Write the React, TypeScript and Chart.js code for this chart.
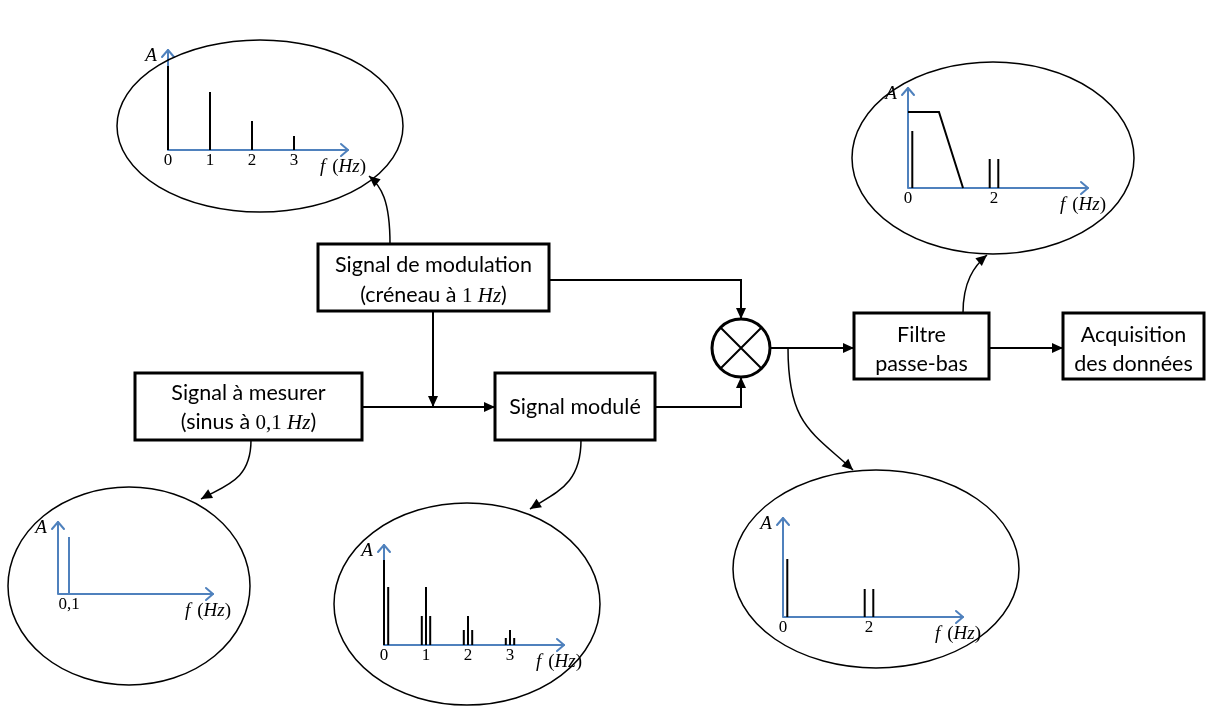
import React, { useEffect, useRef } from "react";
import { Chart, registerables } from "chart.js";
Chart.register(...registerables);

const W = 1206;
const H = 707;

// ---- Spectrum data (frequency in Hz, relative amplitude) ----
const modulationFreqs = [0, 1, 2, 3];
const modulationAmps = [0.84, 0.58, 0.29, 0.14];
const modulationTicks = [0, 1, 2, 3];

const signalFreqs = [0.1];
const signalAmps = [0.57];
const signalTicks = [0.1];
const signalTickLabels = ["0,1"];

const moduleFreqs = [0, 0.1, 0.9, 1, 1.1, 1.9, 2, 2.1, 2.9, 3, 3.1];
const moduleAmps = [0.85, 0.58, 0.29, 0.58, 0.29, 0.15, 0.29, 0.15, 0.07, 0.15, 0.07];
const moduleTicks = [0, 1, 2, 3];

const mixFreqs = [0.1, 1.9, 2.1];
const mixAmps = [0.58, 0.28, 0.28];
const mixTicks = [0, 2];

const filteredFreqs = [0.1, 1.9, 2.1];
const filteredAmps = [0.57, 0.29, 0.29];
const filteredTicks = [0, 2];
const filterShapeFreqs = [0, 0.72, 1.28];
const filterShapeGain = [0.76, 0.76, 0];

// ---- Layout (panels inside ellipses) ----
type Panel = { ox: number; oy: number; kx: number; ky: number; yTop: number; xEnd: number };
const pModulation: Panel = { ox: 168, oy: 150, kx: 42, ky: 100, yTop: 50, xEnd: 348 };
const pFiltered: Panel = { ox: 908, oy: 188, kx: 43, ky: 100, yTop: 88, xEnd: 1088 };
const pSignal: Panel = { ox: 58, oy: 594, kx: 110, ky: 100, yTop: 522, xEnd: 213 };
const pModule: Panel = { ox: 384, oy: 645, kx: 42, ky: 100, yTop: 545, xEnd: 564 };
const pMix: Panel = { ox: 783, oy: 617, kx: 43, ky: 100, yTop: 518, xEnd: 963 };

const BLUE = "#4F81BD";
const SANS = "Lato, 'Open Sans', sans-serif";
const SERIF = "'Liberation Serif', 'DejaVu Serif', serif";
const TXT = "21.5px " + SANS;
const MATH = "21px " + SERIF;
const MATH_I = "italic 21px " + SERIF;

function stems(p: Panel, freqs: number[], amps: number[], color: string) {
  const pts: { x: number; y: number | null }[] = [];
  freqs.forEach((f, i) => {
    const x = p.ox + f * p.kx;
    pts.push({ x, y: p.oy }, { x, y: p.oy - amps[i] * p.ky }, { x, y: null });
  });
  return {
    type: "line" as const,
    data: pts,
    borderColor: color,
    borderWidth: 2,
    pointRadius: 0,
    showLine: true,
    spanGaps: false,
    fill: false,
  };
}

function curve(p: Panel, freqs: number[], gains: number[], color: string) {
  return {
    type: "line" as const,
    data: freqs.map((f, i) => ({ x: p.ox + f * p.kx, y: p.oy - gains[i] * p.ky })),
    borderColor: color,
    borderWidth: 2,
    pointRadius: 0,
    showLine: true,
    fill: false,
    tension: 0,
  };
}

const panelsWithTicks: { p: Panel; ticks: number[]; labels?: string[] }[] = [
  { p: pModulation, ticks: modulationTicks },
  { p: pFiltered, ticks: filteredTicks },
  { p: pSignal, ticks: signalTicks, labels: signalTickLabels },
  { p: pModule, ticks: moduleTicks },
  { p: pMix, ticks: mixTicks },
];

const ellipses = [
  { cx: 260, cy: 126, rx: 143, ry: 86 },
  { cx: 993, cy: 158, rx: 141, ry: 96 },
  { cx: 129, cy: 586, rx: 121, ry: 99 },
  { cx: 467, cy: 604, rx: 133, ry: 101 },
  { cx: 876, cy: 569, rx: 143, ry: 99 },
];

type Run = [string, string];
const boxes: { x0: number; y0: number; x1: number; y1: number; lines: { base: number; runs: Run[] }[] }[] = [
  {
    x0: 318, y0: 244, x1: 549, y1: 311,
    lines: [
      { base: 272, runs: [["Signal de modulation", TXT]] },
      {
        base: 302,
        runs: [
          ["(créneau à ", TXT],
          ["1 ", MATH],
          ["Hz", MATH_I],
          [")", TXT],
        ],
      },
    ],
  },
  {
    x0: 135, y0: 373, x1: 362, y1: 440,
    lines: [
      { base: 400, runs: [["Signal à mesurer", TXT]] },
      {
        base: 429,
        runs: [
          ["(sinus à ", TXT],
          ["0,1 ", MATH],
          ["Hz", MATH_I],
          [")", TXT],
        ],
      },
    ],
  },
  { x0: 495, y0: 373, x1: 655, y1: 440, lines: [{ base: 414, runs: [["Signal modulé", TXT]] }] },
  {
    x0: 854, y0: 313, x1: 989, y1: 379,
    lines: [
      { base: 342, runs: [["Filtre", TXT]] },
      { base: 371, runs: [["passe-bas", TXT]] },
    ],
  },
  {
    x0: 1063, y0: 313, x1: 1204, y1: 379,
    lines: [
      { base: 342, runs: [["Acquisition", TXT]] },
      { base: 371, runs: [["des données", TXT]] },
    ],
  },
];

const mult = { cx: 741, cy: 348, r: 29 };

// straight connectors (polyline, arrow at end)
const connectors: number[][][] = [
  [[771, 348], [854, 348]],
  [[989, 348], [1063, 348]],
  [[549, 280], [741, 280], [741, 319]],
  [[433, 311], [433, 407]],
  [[362, 407], [495, 407]],
  [[655, 407], [741, 407], [741, 377]],
];

// curved pointers (cubic bezier, arrow at end)
const pointers: number[][] = [
  [390, 244, 390, 200, 381, 186, 369, 176],
  [788, 348, 788, 425, 812, 432, 853, 470],
  [251, 440, 251, 480, 226, 485, 201, 499],
  [581, 440, 581, 485, 556, 492, 530, 509],
  [963, 313, 963, 282, 974, 266, 987, 255],
];

const diagramPlugin = {
  id: "diagram",
  beforeDatasetsDraw(chart: any) {
    const ctx: CanvasRenderingContext2D = chart.ctx;
    const sx = chart.scales.x;
    const sy = chart.scales.y;
    const X = (v: number) => sx.getPixelForValue(v);
    const Y = (v: number) => sy.getPixelForValue(v);
    ctx.save();
    ctx.strokeStyle = BLUE;
    ctx.lineWidth = 2;
    ctx.lineCap = "round";
    ctx.lineJoin = "round";
    panelsWithTicks.forEach(({ p }) => {
      ctx.beginPath();
      ctx.moveTo(X(p.ox), Y(p.yTop));
      ctx.lineTo(X(p.ox), Y(p.oy));
      ctx.lineTo(X(p.xEnd), Y(p.oy));
      ctx.stroke();
      ctx.beginPath();
      ctx.moveTo(X(p.ox - 6), Y(p.yTop + 7));
      ctx.lineTo(X(p.ox), Y(p.yTop));
      ctx.lineTo(X(p.ox + 6), Y(p.yTop + 7));
      ctx.moveTo(X(p.xEnd - 7), Y(p.oy - 6));
      ctx.lineTo(X(p.xEnd), Y(p.oy));
      ctx.lineTo(X(p.xEnd - 7), Y(p.oy + 6));
      ctx.stroke();
    });
    ctx.restore();
  },
  afterDatasetsDraw(chart: any) {
    const ctx: CanvasRenderingContext2D = chart.ctx;
    const sx = chart.scales.x;
    const sy = chart.scales.y;
    const X = (v: number) => sx.getPixelForValue(v);
    const Y = (v: number) => sy.getPixelForValue(v);
    ctx.save();
    ctx.fillStyle = "#000";
    ctx.strokeStyle = "#000";

    const arrowHead = (tx: number, ty: number, fx: number, fy: number, len: number, half: number) => {
      const a = Math.atan2(Y(ty) - Y(fy), X(tx) - X(fx));
      const c = Math.cos(a), s = Math.sin(a);
      const px = X(tx), py = Y(ty);
      ctx.beginPath();
      ctx.moveTo(px, py);
      ctx.lineTo(px - len * c + half * s, py - len * s - half * c);
      ctx.lineTo(px - len * c - half * s, py - len * s + half * c);
      ctx.closePath();
      ctx.fill();
    };

    // ellipses
    ctx.lineWidth = 1.5;
    ellipses.forEach((e) => {
      ctx.beginPath();
      ctx.ellipse(X(e.cx), Y(e.cy), Math.abs(X(e.rx) - X(0)), Math.abs(Y(e.ry) - Y(0)), 0, 0, Math.PI * 2);
      ctx.stroke();
    });

    // panel labels
    ctx.textBaseline = "middle";
    panelsWithTicks.forEach(({ p, ticks, labels }) => {
      ctx.font = "17px " + SERIF;
      ctx.textAlign = "center";
      ticks.forEach((t, i) => {
        const lbl = labels ? labels[i] : String(t);
        ctx.fillText(lbl, X(p.ox + t * p.kx), Y(p.oy + 11));
      });
      ctx.font = "italic 19px " + SERIF;
      ctx.fillText("A", X(p.ox - 17), Y(p.yTop + 6));
      ctx.textAlign = "left";
      let x = X(p.xEnd - 28);
      const runs: [string, string, number][] = [
        ["f", "italic 19px " + SERIF, 7],
        ["(", "19px " + SERIF, 0],
        ["Hz", "italic 19px " + SERIF, 0],
        [")", "19px " + SERIF, 0],
      ];
      runs.forEach(([t, f, extra]) => {
        ctx.font = f;
        ctx.fillText(t, x, Y(p.oy + 17));
        x += ctx.measureText(t).width + extra;
      });
    });

    // boxes
    ctx.lineWidth = 3;
    ctx.textBaseline = "alphabetic";
    ctx.textAlign = "left";
    boxes.forEach((b) => {
      ctx.strokeRect(X(b.x0), Y(b.y0), X(b.x1) - X(b.x0), Y(b.y1) - Y(b.y0));
      const cx = X((b.x0 + b.x1) / 2);
      b.lines.forEach((ln) => {
        let total = 0;
        ln.runs.forEach(([t, f]) => {
          ctx.font = f;
          total += ctx.measureText(t).width;
        });
        let x = cx - total / 2;
        ln.runs.forEach(([t, f]) => {
          ctx.font = f;
          ctx.fillText(t, x, Y(ln.base));
          x += ctx.measureText(t).width;
        });
      });
    });

    // multiplier
    ctx.lineWidth = 3;
    ctx.beginPath();
    ctx.arc(X(mult.cx), Y(mult.cy), X(mult.r) - X(0), 0, Math.PI * 2);
    ctx.stroke();
    const d = mult.r * Math.SQRT1_2;
    ctx.lineWidth = 2;
    ctx.beginPath();
    ctx.moveTo(X(mult.cx - d), Y(mult.cy - d));
    ctx.lineTo(X(mult.cx + d), Y(mult.cy + d));
    ctx.moveTo(X(mult.cx + d), Y(mult.cy - d));
    ctx.lineTo(X(mult.cx - d), Y(mult.cy + d));
    ctx.stroke();

    // connectors
    ctx.lineWidth = 2;
    connectors.forEach((pts) => {
      ctx.beginPath();
      pts.forEach(([x, y], i) => (i === 0 ? ctx.moveTo(X(x), Y(y)) : ctx.lineTo(X(x), Y(y))));
      ctx.stroke();
      const [tx, ty] = pts[pts.length - 1];
      const [fx, fy] = pts[pts.length - 2];
      arrowHead(tx, ty, fx, fy, 11, 5);
    });

    // curved pointers
    ctx.lineWidth = 1.5;
    pointers.forEach((c) => {
      ctx.beginPath();
      ctx.moveTo(X(c[0]), Y(c[1]));
      ctx.bezierCurveTo(X(c[2]), Y(c[3]), X(c[4]), Y(c[5]), X(c[6]), Y(c[7]));
      ctx.stroke();
      arrowHead(c[6], c[7], c[4], c[5], 11, 5);
    });

    ctx.restore();
  },
};

export default function App() {
  const ref = useRef<HTMLCanvasElement | null>(null);
  useEffect(() => {
    if (!ref.current) return;
    const chart = new Chart(ref.current, {
      type: "scatter",
      data: {
        datasets: [
          stems(pModulation, modulationFreqs, modulationAmps, "#000"),
          stems(pSignal, signalFreqs, signalAmps, BLUE),
          stems(pModule, moduleFreqs, moduleAmps, "#000"),
          stems(pMix, mixFreqs, mixAmps, "#000"),
          stems(pFiltered, filteredFreqs, filteredAmps, "#000"),
          curve(pFiltered, filterShapeFreqs, filterShapeGain, "#000"),
        ] as any,
      },
      options: {
        animation: false,
        responsive: true,
        maintainAspectRatio: false,
        events: [],
        layout: { padding: 0 },
        plugins: { legend: { display: false }, tooltip: { enabled: false } },
        scales: {
          x: { type: "linear", min: 0, max: W, display: false },
          y: { type: "linear", min: 0, max: H, reverse: true, display: false },
        },
      },
      plugins: [diagramPlugin],
    });
    return () => chart.destroy();
  }, []);
  return (
    <div style={{ position: "fixed", left: 0, top: 0, width: W, height: H, background: "#fff" }}>
      <canvas ref={ref} />
    </div>
  );
}
